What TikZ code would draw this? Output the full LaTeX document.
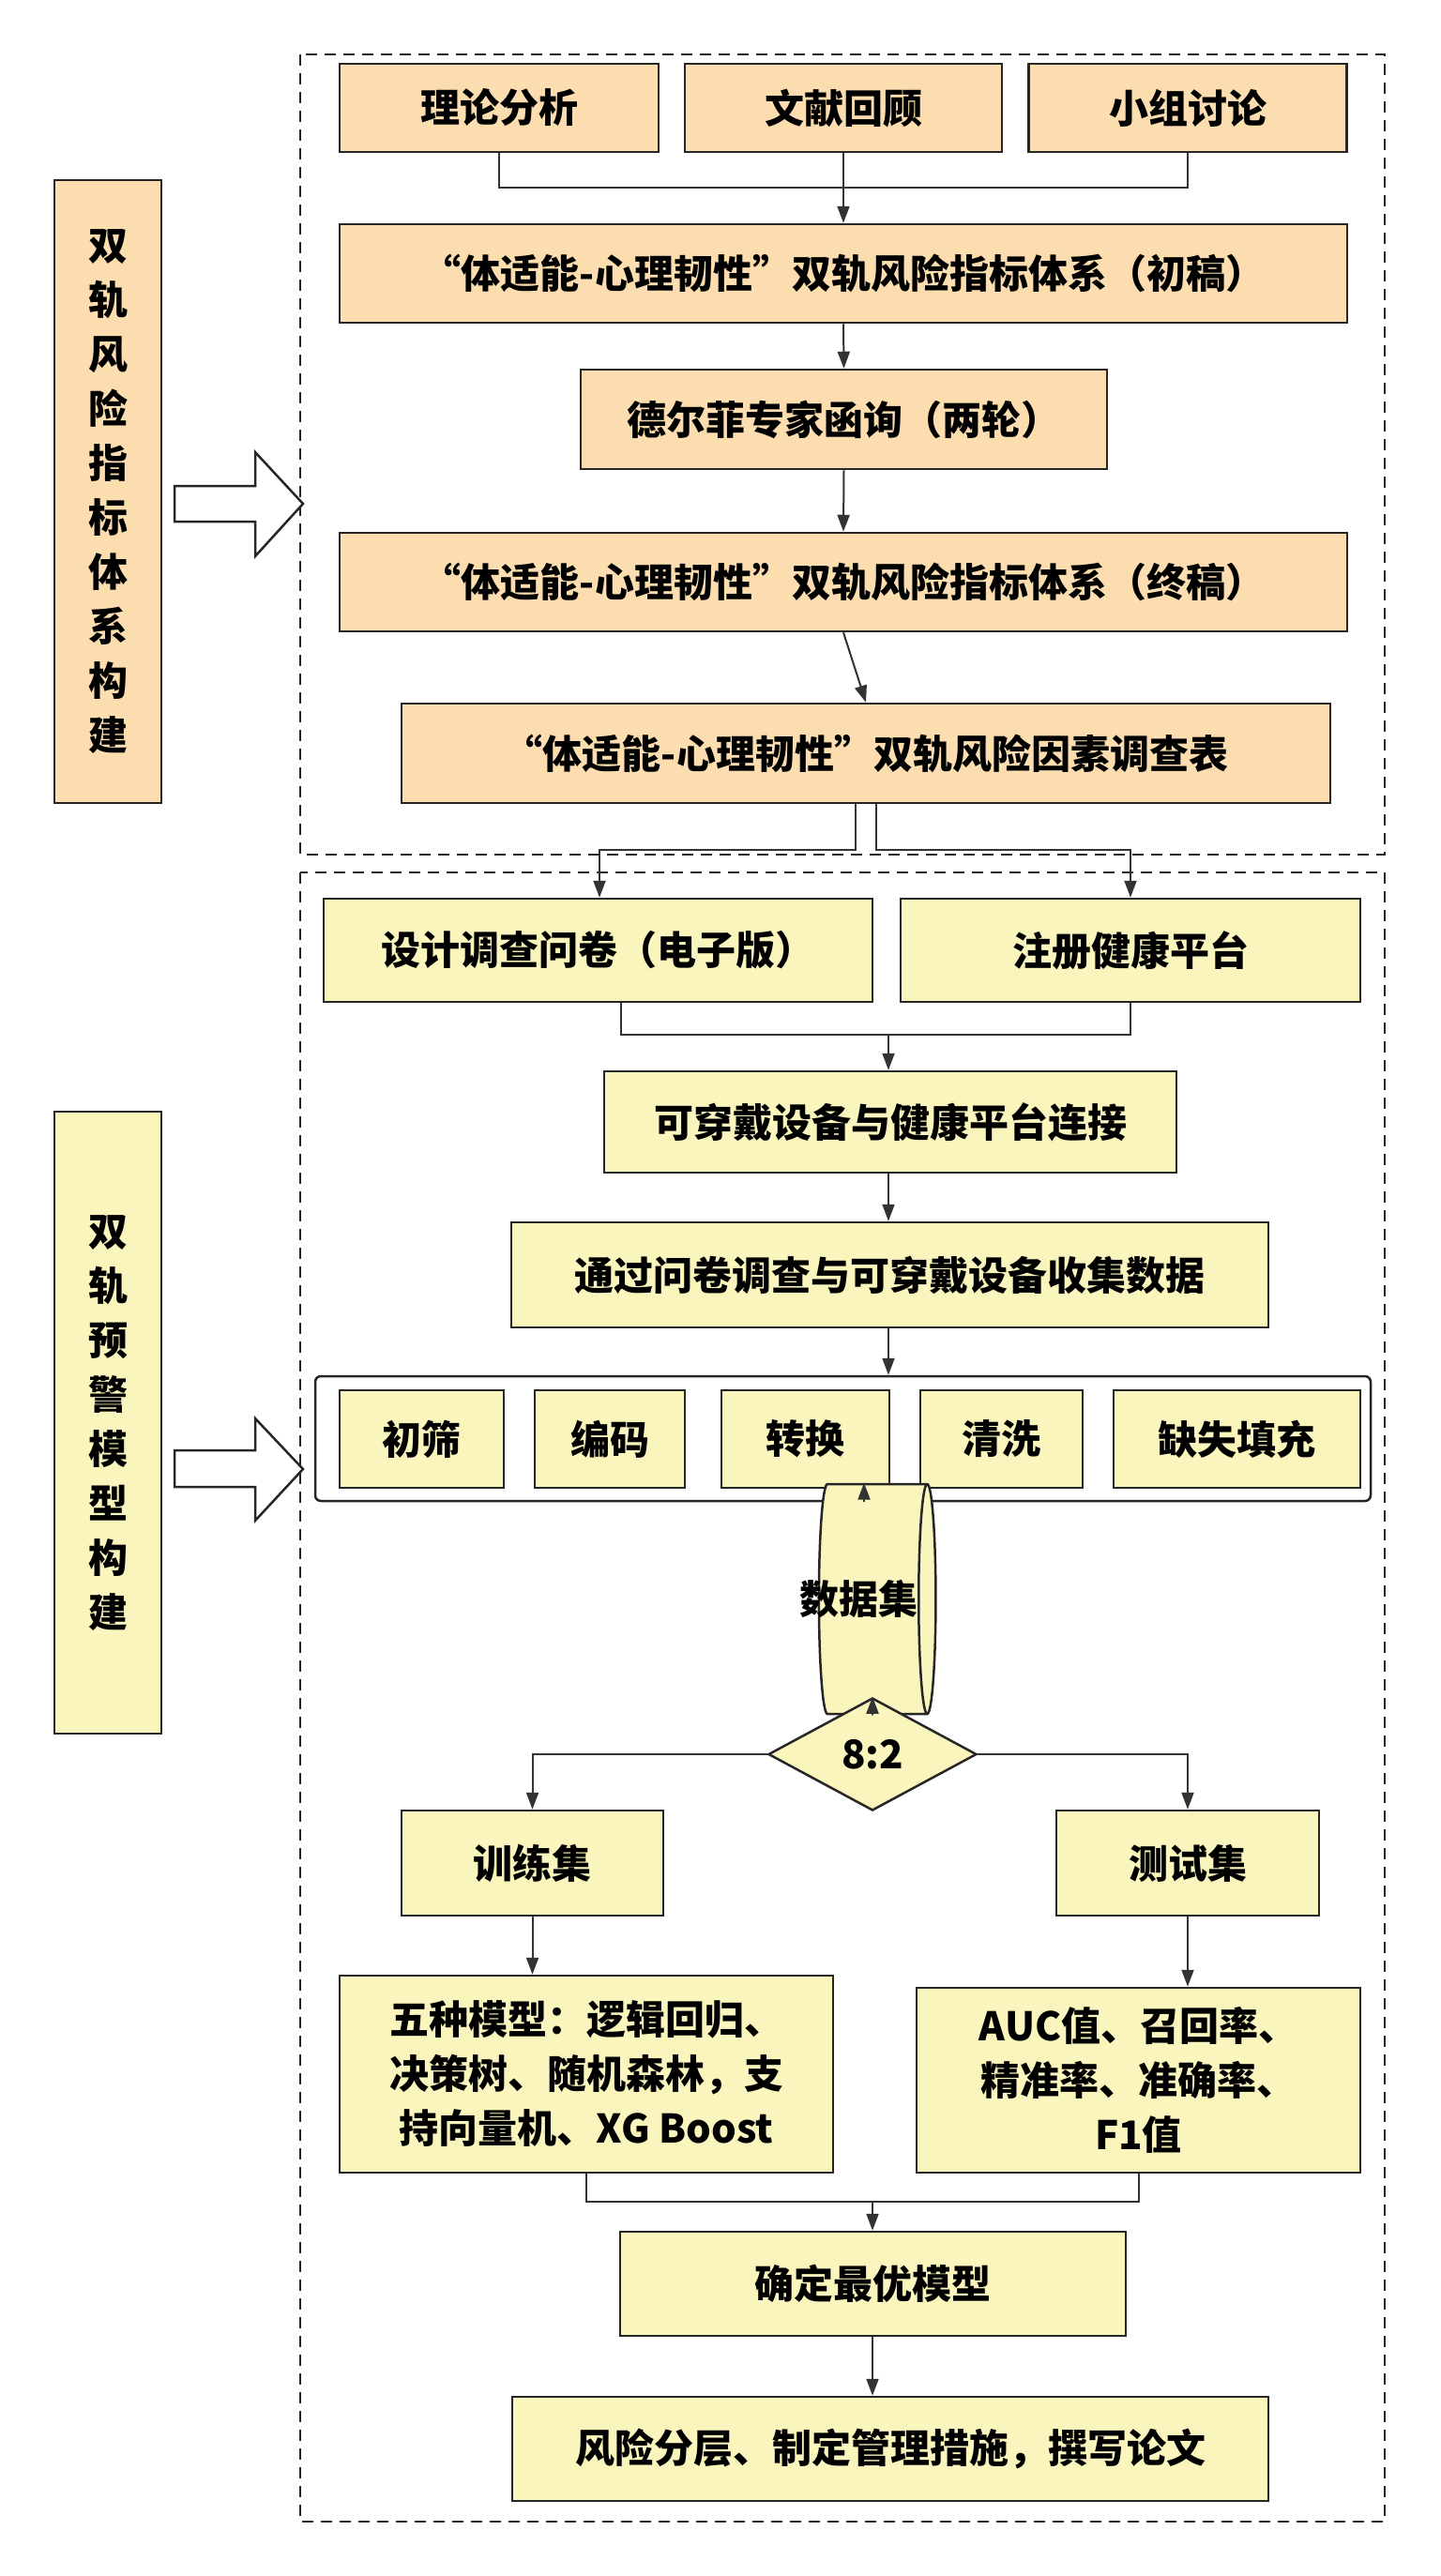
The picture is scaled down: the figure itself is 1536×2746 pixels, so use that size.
\documentclass[tikz,border=0pt]{standalone}
\usepackage{fontspec}
\setmainfont{Noto Sans CJK SC}
\usetikzlibrary{shapes.geometric,arrows.meta}
\definecolor{org}{HTML}{FBDDB0}
\definecolor{yel}{HTML}{FAF5BC}
\begin{document}
\begin{tikzpicture}[x=1pt,y=-1pt,
  box/.style={draw=black!85,line width=2.5pt,fill=#1,inner sep=0pt,font=\fontsize{42}{58}\selectfont\bfseries,align=center},
  ob/.style={box=org},
  yb/.style={box=yel},
  ln/.style={line width=2pt,black!80},
  ar/.style={ln,-{Triangle[width=13pt,length=18pt]}},
  dbox/.style={line width=2.5pt,dash pattern=on 12pt off 8pt,black!85},
  big/.style={line width=2.5pt,fill=white,draw=black!85}]
\useasboundingbox (0,0) rectangle (1536,2746);
\fill[white] (0,0) rectangle (1536,2746);
% frames
\draw[dbox] (320,58) rectangle (1476,911);
\draw[dbox] (320,930) rectangle (1476,2688);
% left labels
\node[ob,minimum width=114pt,minimum height=664pt] (L1) at (115,524) {双\\轨\\风\\险\\指\\标\\体\\系\\构\\建};
\node[yb,minimum width=114pt,minimum height=663pt] (L2) at (115,1516.5) {双\\轨\\预\\警\\模\\型\\构\\建};
\draw[big] (186,518) -- (272,518) -- (272,482) -- (323,537) -- (272,593) -- (272,556) -- (186,556) -- cycle;
\draw[big] (186,1546) -- (272,1546) -- (272,1512) -- (323,1566) -- (272,1621) -- (272,1585) -- (186,1585) -- cycle;
% section 1
\node[ob,minimum width=340pt,minimum height=94pt] (b1) at (532,115) {理论分析};
\node[ob,minimum width=338pt,minimum height=94pt] (b2) at (899,115) {文献回顾};
\node[ob,minimum width=339pt,minimum height=94pt] (b3) at (1266,115) {小组讨论};
\node[ob,minimum width=1074pt,minimum height=105pt] (c1) at (899,291.5) {“体适能-心理韧性”双轨风险指标体系（初稿）};
\node[ob,minimum width=561pt,minimum height=106pt] (c2) at (899.5,447) {德尔菲专家函询（两轮）};
\node[ob,minimum width=1074pt,minimum height=105pt] (c3) at (899,620.5) {“体适能-心理韧性”双轨风险指标体系（终稿）};
\node[ob,minimum width=990pt,minimum height=106pt] (c4) at (923,803) {“体适能-心理韧性”双轨风险因素调查表};
\coordinate (j1) at (899,200);
\draw[ln] (b1.south) |- (j1);
\draw[ln] (b3.south) |- (j1);
\draw[ar] (b2.south) -- (c1.north);
\draw[ar] (c1.south) -- (c2.north);
\draw[ar] (c2.south) -- (c3.north);
\draw[ar] (c3.south) -- (c4.north);
% section 2
\node[yb,minimum width=585pt,minimum height=110pt] (q1) at (637.5,1013) {设计调查问卷（电子版）};
\node[yb,minimum width=490pt,minimum height=110pt] (q2) at (1205,1013) {注册健康平台};
\coordinate (d1) at (639,906);
\coordinate (d2) at (1205,906);
\draw[ar] ([xshift=-11pt]c4.south) |- (d1) -- (q1.north -| d1);
\draw[ar] ([xshift=11pt]c4.south) |- (d2) -- (q2.north -| d2);
\node[yb,minimum width=610pt,minimum height=108pt] (w1) at (949,1196) {可穿戴设备与健康平台连接};
\node[yb,minimum width=807pt,minimum height=112pt] (w2) at (948.5,1359) {通过问卷调查与可穿戴设备收集数据};
\coordinate (m1) at (947,1103);
\draw[ln] (q1.south -| 662,0) |- (m1);
\draw[ln] (q2.south) |- (m1);
\draw[ar] (m1) -- (w1.north -| m1);
\draw[ar] (w1.south -| m1) -- (w2.north -| m1);
\node[draw=black!85,line width=2.5pt,rounded corners=6pt,minimum width=1125pt,minimum height=133pt,fill=white] (fr) at (898.5,1533.5) {};
\draw[ar] (w2.south -| m1) -- (fr.north -| m1);
\node[yb,minimum width=175pt,minimum height=104pt] (p1) at (449.5,1534) {初筛};
\node[yb,minimum width=160pt,minimum height=104pt] (p2) at (650,1534) {编码};
\node[yb,minimum width=179pt,minimum height=104pt] (p3) at (858.5,1534) {转换};
\node[yb,minimum width=173pt,minimum height=104pt] (p4) at (1067.5,1534) {清洗};
\node[yb,minimum width=263pt,minimum height=104pt] (p5) at (1318.5,1534) {缺失填充};
\node[yb,shape=cylinder,shape aspect=0.45,minimum width=245pt,minimum height=107pt] (cy) at (930,1704.5) {\hspace*{-30pt}数据集};
\draw[ar] (fr.south -| 921,0) -- (cy.north -| 921,0);
\node[yb,diamond,minimum width=222pt,minimum height=120pt] (dm) at (930,1870) {8:2};
\draw[ar] (cy.south) -- (dm.north);
\node[yb,minimum width=279pt,minimum height=112pt] (tr) at (567.5,1986) {训练集};
\node[yb,minimum width=280pt,minimum height=112pt] (te) at (1266,1986) {测试集};
\draw[ar] (dm.west) -| (tr.north);
\draw[ar] (dm.east) -| (te.north);
\node[yb,minimum width=526pt,minimum height=210pt] (f1) at (625,2211) {五种模型：逻辑回归、\\决策树、随机森林，支\\持向量机、XG Boost};
\node[yb,minimum width=473pt,minimum height=197pt] (f2) at (1213.5,2217.5) {AUC值、召回率、\\精准率、准确率、\\F1值};
\draw[ar] (tr.south) -- (tr.south |- f1.north);
\draw[ar] (te.south) -- (te.south |- f2.north);
\node[yb,minimum width=539pt,minimum height=111pt] (g1) at (930.5,2434.5) {确定最优模型};
\node[yb,minimum width=806pt,minimum height=111pt] (g2) at (949,2610.5) {风险分层、制定管理措施，撰写论文};
\coordinate (m2) at (930,2347);
\draw[ln] (f1.south) |- (m2);
\draw[ln] (f2.south) |- (m2);
\draw[ar] (m2) -- (g1.north -| m2);
\draw[ar] (g1.south -| m2) -- (g2.north -| m2);
\end{tikzpicture}
\end{document}
